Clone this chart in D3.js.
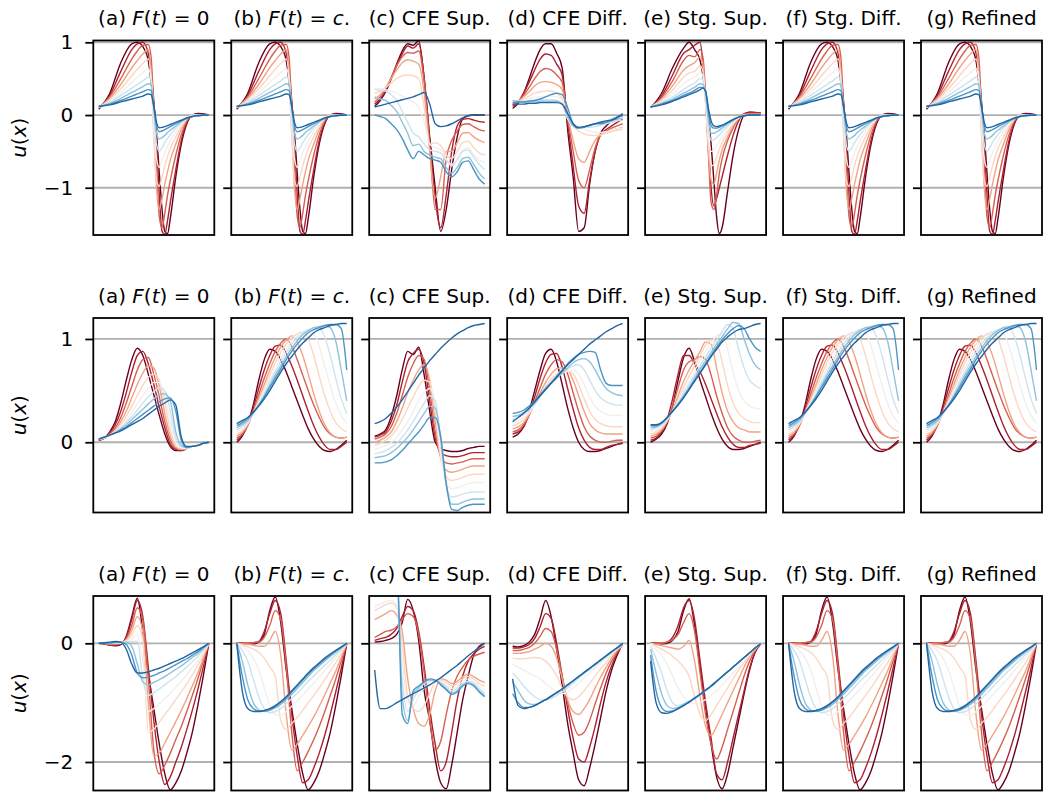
<!DOCTYPE html>
<html>
<head>
<meta charset="utf-8">
<script src="https://cdn.jsdelivr.net/npm/d3@7"></script>
<style>
  body { margin: 0; background: #fff; }
  text { font-family: "DejaVu Sans", sans-serif; }
</style>
</head>
<body>
<div id="chart"></div>
<script>
// sample positions along x (normalised domain)
const XU = [0, .05, .1, .15, .2, .25, .3, .35, .4, .45, .5, .55, .6, .65, .7, .75, .8, .85, .9, .95, 1];
const X1 = [0, .1, .2, .3, .35, .4, .45, .475, .5, .525, .55, .575, .6, .625, .65, .7, .75, .8, .85, .9, 1];

// ---- row 1 ----
const r1a = [
  [.08, .3, .72, .98, 1.0, .94, .75, .45, .15, -.25, -.8, -1.3, -1.6, -1.63, -1.42, -.85, -.4, -.12, 0, .02, 0],
  [.09, .27, .6, .9, .98, 1.0, .85, .6, .2, -.4, -1.1, -1.6, -1.64, -1.45, -1.2, -.75, -.35, -.1, 0, .01, 0],
  [.1, .25, .5, .77, .88, .96, .97, .8, .1, -.7, -1.4, -1.55, -1.35, -1.1, -.9, -.55, -.27, -.08, 0, 0, 0],
  [.1, .23, .42, .65, .75, .84, .9, .6, -.2, -1.0, -1.3, -1.15, -.95, -.78, -.62, -.4, -.2, -.06, 0, 0, 0],
  [.1, .21, .36, .54, .63, .71, .77, .5, -.3, -.9, -.98, -.85, -.7, -.57, -.46, -.3, -.16, -.05, 0, 0, 0],
  [.11, .19, .31, .45, .52, .58, .64, .5, -.1, -.6, -.72, -.62, -.52, -.43, -.35, -.23, -.12, -.04, -.01, 0, 0],
  [.11, .18, .27, .37, .42, .47, .52, .5, .0, -.4, -.5, -.45, -.38, -.32, -.27, -.18, -.1, -.04, -.01, 0, 0],
  [.11, .16, .23, .31, .35, .39, .43, .42, .1, -.25, -.33, -.31, -.28, -.24, -.21, -.15, -.09, -.04, -.02, 0, 0],
  [.12, .15, .2, .26, .29, .32, .35, .34, .12, -.15, -.23, -.22, -.2, -.18, -.16, -.12, -.08, -.05, -.02, -.01, 0],
  [.12, .14, .18, .22, .24, .26, .29, .28, .12, -.1, -.175, -.17, -.16, -.145, -.13, -.1, -.07, -.04, -.02, -.01, 0]
];
const r1c = [
  [.12, .2, .32, .5, .7, .88, .98, .96, 1.02, .5, -.3, -1.0, -1.6, -1.3, -.75, -.3, -.05, -.01, 0, 0, 0],
  [.15, .22, .34, .5, .68, .84, .95, .92, .98, .5, -.35, -1.15, -1.55, -1.1, -.5, -.15, -.06, -.05, -.07, -.09, -.1],
  [.18, .25, .36, .52, .68, .8, .86, .85, .88, .45, -.4, -1.3, -1.3, -.6, -.35, -.22, -.13, -.12, -.16, -.2, -.22],
  [.22, .28, .38, .5, .62, .72, .76, .74, .7, .3, -.5, -1.15, -.85, -.5, -.5, -.38, -.25, -.24, -.3, -.35, -.38],
  [.3, .33, .38, .44, .5, .54, .55, .54, .5, .1, -.4, -.38, -.42, -.55, -.6, -.5, -.38, -.36, -.45, -.52, -.55],
  [.37, .36, .35, .33, .3, .26, .22, .18, .1, -.1, -.4, -.45, -.48, -.6, -.68, -.6, -.48, -.45, -.55, -.62, -.65],
  [.35, .34, .33, .28, .2, .05, -.1, -.25, -.3, -.4, -.48, -.5, -.52, -.62, -.7, -.62, -.5, -.48, -.58, -.68, -.75],
  [.25, .22, .2, .13, .05, -.1, -.25, -.42, -.4, -.5, -.55, -.58, -.6, -.72, -.8, -.72, -.6, -.58, -.68, -.8, -.88],
  [.0, -.02, -.05, -.12, -.2, -.32, -.48, -.6, -.5, -.55, -.6, -.62, -.65, -.78, -.85, -.78, -.65, -.63, -.75, -.88, -.95],
  [.11, .13, .15, .17, .19, .21, .23, .25, .28, .31, .15, -.12, -.16, -.15, -.12, -.08, -.04, -.01, 0, 0, 0]
];
const r1d = [
  [.09, .16, .3, .5, .72, .9, .98, .98, .85, .65, -.2, -.85, -1.6, -1.55, -.95, -.5, -.25, -.15, -.08, -.03, 0],
  [.12, .18, .3, .45, .62, .77, .84, .82, .7, .55, -.1, -.7, -1.25, -1.35, -.9, -.5, -.27, -.2, -.15, -.1, -.06],
  [.14, .18, .27, .38, .5, .6, .64, .62, .55, .45, -.05, -.5, -.9, -1.0, -.75, -.45, -.27, -.22, -.18, -.15, -.12],
  [.16, .19, .25, .32, .4, .45, .46, .45, .42, .35, .0, -.35, -.6, -.65, -.5, -.35, -.27, -.24, -.21, -.19, -.17],
  [.17, .19, .22, .26, .3, .32, .33, .33, .3, .22, -.05, -.15, -.22, -.26, -.28, -.28, -.27, -.25, -.23, -.21, -.2],
  [.18, .19, .2, .22, .24, .25, .26, .26, .25, .2, -.05, -.12, -.16, -.19, -.22, -.24, -.24, -.23, -.21, -.19, -.18],
  [.19, .19, .19, .2, .2, .21, .21, .21, .2, .16, -.05, -.15, -.17, -.16, -.17, -.16, -.14, -.12, -.1, -.08, -.07],
  [.2, .19, .18, .18, .18, .19, .19, .19, .19, .15, -.02, -.15, -.18, -.16, -.15, -.12, -.1, -.1, -.08, -.06, -.04],
  [.17, .18, .18, .19, .2, .22, .25, .28, .3, .28, .1, -.12, -.18, -.17, -.14, -.12, -.12, -.1, -.06, -.03, -.01],
  [.15, .15, .15, .16, .16, .17, .17, .17, .17, .15, .02, -.12, -.17, -.16, -.14, -.12, -.1, -.08, -.07, -.04, .02]
];
const r1e = [
  [.1, .3, .65, .92, 1.0, .9, .75, .55, .3, 0, -.4, -.9, -1.4, -1.63, -1.55, -1.05, -.55, -.2, 0, .04, .03],
  [.11, .26, .55, .85, .9, .96, 1.0, .7, .2, -.4, -1.0, -1.25, -1.15, -1.0, -.85, -.55, -.28, -.08, .02, .04, .03],
  [.11, .24, .47, .75, .82, .8, .9, .8, .3, -.5, -1.2, -1.3, -1.1, -.8, -.6, -.35, -.18, -.05, .01, .02, .02],
  [.11, .22, .4, .62, .68, .72, .8, .7, .2, -.5, -.9, -.95, -.8, -.62, -.48, -.3, -.15, -.05, 0, .01, .01],
  [.11, .2, .34, .52, .58, .6, .68, .6, .15, -.4, -.7, -.68, -.58, -.47, -.38, -.24, -.12, -.04, 0, 0, 0],
  [.11, .18, .29, .43, .48, .52, .58, .55, .2, -.3, -.5, -.48, -.42, -.36, -.3, -.2, -.1, -.04, -.01, 0, 0],
  [.11, .17, .25, .35, .4, .44, .5, .48, .25, -.15, -.35, -.34, -.31, -.27, -.23, -.15, -.08, -.03, -.01, 0, 0],
  [.11, .16, .22, .3, .34, .38, .43, .42, .3, -.05, -.25, -.25, -.23, -.21, -.18, -.12, -.07, -.03, -.01, 0, 0],
  [.11, .15, .2, .27, .3, .34, .38, .38, .32, .05, -.15, -.18, -.18, -.17, -.15, -.11, -.07, -.03, -.01, 0, 0],
  [.11, .14, .19, .25, .28, .31, .35, .37, .33, .1, -.08, -.15, -.16, -.15, -.14, -.1, -.06, -.03, -.01, 0, 0]
];

// ---- row 2 ----
const r2a = [
  [.02, .04, .1, .2, .38, .6, .8, .91, .84, .66, .46, .26, .08, -.04, -.08, -.08, -.06, -.04, -.03, -.01, 0],
  [.02, .04, .09, .17, .3, .48, .68, .84, .88, .76, .56, .34, .14, -.02, -.07, -.08, -.06, -.04, -.03, -.01, 0],
  [.02, .04, .08, .14, .24, .38, .54, .7, .8, .82, .66, .44, .2, .02, -.06, -.07, -.06, -.04, -.03, -.01, 0],
  [.03, .04, .07, .12, .2, .3, .43, .56, .67, .74, .72, .54, .28, .06, -.05, -.07, -.06, -.04, -.03, -.01, 0],
  [.03, .04, .07, .11, .17, .25, .35, .45, .55, .63, .66, .6, .38, .12, -.03, -.06, -.06, -.04, -.03, -.01, 0],
  [.03, .05, .07, .1, .15, .21, .29, .37, .45, .52, .58, .58, .45, .2, 0, -.05, -.06, -.04, -.03, -.01, 0],
  [.03, .05, .07, .1, .14, .19, .25, .31, .38, .44, .49, .53, .5, .3, .04, -.04, -.05, -.04, -.03, -.01, 0],
  [.03, .05, .07, .09, .13, .17, .22, .27, .32, .37, .42, .46, .47, .4, .1, -.03, -.05, -.04, -.03, -.01, 0],
  [.03, .05, .07, .09, .12, .15, .19, .23, .27, .31, .35, .39, .42, .43, .3, .02, -.05, -.04, -.03, -.01, 0],
  [.03, .05, .07, .09, .11, .14, .17, .2, .23, .27, .31, .35, .38, .41, .36, .05, -.04, -.04, -.03, -.01, 0]
];
const r2b = [
  [0, .06, .18, .36, .6, .8, .9, .88, .8, .68, .54, .4, .26, .13, .03, -.04, -.08, -.09, -.07, -.03, .02],
  [.02, .07, .17, .33, .52, .7, .84, .93, .94, .86, .74, .6, .45, .3, .16, .05, -.03, -.07, -.07, -.04, 0],
  [.04, .08, .16, .3, .46, .62, .76, .88, .96, 1.0, .93, .8, .65, .5, .36, .24, .14, .08, .05, .04, .05],
  [.06, .1, .17, .29, .42, .56, .7, .82, .92, .99, 1.03, .97, .84, .66, .47, .3, .17, .09, .05, .04, .05],
  [.08, .11, .18, .28, .4, .52, .65, .77, .87, .95, 1.01, 1.05, 1.07, 1.0, .84, .64, .45, .3, .19, .13, .1],
  [.1, .13, .19, .28, .38, .5, .61, .72, .82, .91, .98, 1.03, 1.07, 1.09, 1.06, .93, .74, .55, .38, .26, .18],
  [.12, .15, .2, .28, .37, .47, .58, .68, .78, .87, .95, 1.01, 1.06, 1.09, 1.11, 1.11, 1.02, .84, .62, .42, .28],
  [.14, .17, .21, .28, .36, .45, .55, .65, .74, .83, .91, .98, 1.04, 1.08, 1.11, 1.12, 1.13, 1.11, .98, .7, .4],
  [.16, .19, .23, .29, .36, .44, .53, .62, .71, .8, .88, .95, 1.01, 1.06, 1.09, 1.11, 1.13, 1.14, 1.14, 1.1, .7],
  [.18, .21, .24, .29, .35, .42, .5, .59, .68, .76, .83, .9, .96, 1.01, 1.06, 1.09, 1.11, 1.13, 1.14, 1.15, 1.15]
];
const r2c = [
  [.06, .08, .12, .25, .45, .7, .88, .85, .92, .65, .3, 0, -.06, -.08, -.09, -.09, -.08, -.06, -.05, -.04, -.04],
  [.05, .07, .1, .2, .36, .58, .78, .86, .9, .76, .4, .05, -.1, -.13, -.14, -.14, -.13, -.11, -.1, -.1, -.1],
  [.03, .05, .08, .15, .28, .45, .63, .76, .84, .8, .5, .1, -.14, -.2, -.21, -.2, -.19, -.17, -.16, -.16, -.16],
  [0, .02, .05, .1, .2, .33, .48, .6, .7, .75, .6, .2, -.15, -.27, -.29, -.28, -.26, -.24, -.23, -.23, -.23],
  [-.03, -.01, .02, .06, .13, .22, .33, .44, .54, .6, .58, .3, -.15, -.33, -.37, -.36, -.34, -.32, -.31, -.31, -.31],
  [-.07, -.05, -.03, 0, .05, .12, .2, .3, .4, .48, .52, .38, -.1, -.38, -.45, -.44, -.42, -.4, -.39, -.39, -.39],
  [-.11, -.1, -.08, -.05, -.01, .05, .12, .2, .29, .38, .45, .4, 0, -.42, -.53, -.52, -.5, -.49, -.48, -.48, -.48],
  [-.15, -.14, -.13, -.1, -.06, -.01, .05, .12, .2, .28, .35, .33, .05, -.4, -.6, -.6, -.58, -.56, -.55, -.55, -.55],
  [-.2, -.2, -.19, -.17, -.13, -.08, -.02, .04, .1, .17, .24, .24, .05, -.4, -.65, -.66, -.63, -.61, -.6, -.6, -.6],
  [.18, .2, .23, .28, .34, .41, .49, .57, .65, .72, .79, .85, .91, .96, 1.01, 1.05, 1.08, 1.11, 1.13, 1.14, 1.15]
];
const r2d = [
  [.05, .08, .15, .3, .5, .7, .86, .9, .78, .56, .33, .14, .0, -.07, -.09, -.09, -.08, -.06, -.04, -.02, -.01],
  [.08, .1, .15, .27, .44, .62, .77, .85, .86, .73, .52, .32, .14, .02, -.05, -.07, -.07, -.05, -.03, -.02, -.01],
  [.1, .12, .17, .26, .39, .53, .66, .75, .8, .78, .66, .48, .3, .15, .06, .02, .0, 0, .01, .02, .02],
  [.13, .15, .19, .27, .37, .48, .58, .66, .71, .72, .7, .6, .45, .3, .18, .12, .09, .08, .08, .08, .08],
  [.16, .18, .22, .28, .36, .45, .54, .61, .66, .69, .69, .66, .56, .42, .3, .22, .18, .16, .15, .15, .15],
  [.19, .21, .24, .29, .36, .44, .52, .58, .63, .67, .69, .7, .66, .56, .44, .35, .3, .27, .26, .26, .26],
  [.22, .24, .27, .31, .37, .44, .51, .57, .62, .67, .71, .74, .75, .7, .6, .5, .43, .39, .37, .36, .36],
  [.25, .26, .29, .33, .38, .45, .51, .57, .62, .67, .72, .77, .8, .81, .78, .7, .6, .52, .48, .46, .45],
  [.28, .29, .31, .35, .4, .46, .52, .58, .64, .7, .76, .81, .85, .87, .88, .87, .7, .57, .55, .55, .55],
  [.2, .24, .28, .33, .39, .45, .51, .57, .63, .69, .75, .8, .85, .9, .95, .99, 1.03, 1.07, 1.1, 1.13, 1.15]
];
const r2e = [
  [0, .03, .08, .18, .35, .6, .82, .91, .78, .6, .44, .28, .14, .03, -.04, -.07, -.07, -.06, -.04, -.02, 0],
  [.02, .04, .1, .22, .42, .66, .84, .84, .76, .68, .56, .42, .28, .15, .05, -.02, -.05, -.05, -.03, -.02, -.01],
  [.04, .06, .11, .2, .35, .53, .7, .78, .8, .83, .8, .65, .45, .28, .14, .06, .02, .0, 0, .01, .02],
  [.06, .08, .12, .2, .31, .45, .59, .7, .79, .88, .97, .95, .72, .48, .3, .2, .14, .12, .1, .1, .1],
  [.08, .1, .14, .21, .3, .41, .53, .64, .74, .84, .94, .99, .97, .78, .55, .38, .28, .23, .2, .19, .19],
  [.1, .12, .16, .22, .3, .39, .49, .59, .69, .79, .88, .96, 1.03, 1.05, .9, .68, .5, .4, .35, .33, .32],
  [.12, .14, .17, .23, .3, .38, .47, .56, .65, .74, .83, .91, .99, 1.07, 1.14, 1.1, .9, .72, .6, .55, .52],
  [.14, .15, .18, .23, .3, .37, .45, .53, .62, .71, .79, .87, .95, 1.02, 1.1, 1.16, 1.15, 1.0, .85, .75, .7],
  [.16, .16, .19, .24, .3, .37, .44, .52, .6, .68, .76, .84, .92, .99, 1.05, 1.1, 1.13, 1.1, 1.0, .92, .88],
  [.17, .17, .19, .24, .3, .36, .43, .51, .59, .67, .75, .83, .9, .97, 1.02, 1.06, 1.09, 1.1, 1.12, 1.14, 1.15]
];

// ---- row 3 ----
const r3a = [
  [0, -.01, -.03, -.04, -.02, .12, .45, .76, .2, -.5, -1.1, -1.7, -2.2, -2.47, -2.35, -2.15, -1.85, -1.5, -1.05, -.55, 0],
  [0, -.01, -.02, -.03, -.01, .1, .4, .72, .45, -.4, -1.3, -2.0, -2.38, -2.25, -2.0, -1.75, -1.45, -1.13, -.78, -.4, 0],
  [0, -.01, -.02, -.02, 0, .08, .3, .6, .4, -.6, -1.8, -2.2, -2.05, -1.85, -1.62, -1.4, -1.15, -.88, -.6, -.3, 0],
  [0, 0, -.01, -.01, .01, .06, .22, .45, .2, -1.0, -1.9, -1.85, -1.68, -1.5, -1.32, -1.13, -.93, -.72, -.5, -.25, 0],
  [0, 0, 0, 0, .01, .04, .14, .3, .05, -1.5, -1.45, -1.33, -1.2, -1.08, -.95, -.82, -.68, -.53, -.37, -.19, 0],
  [0, 0, 0, 0, .01, .03, .07, .15, -.3, -1.15, -1.1, -1.02, -.93, -.84, -.74, -.64, -.53, -.41, -.29, -.15, 0],
  [0, 0, 0, .01, .01, .02, .03, .03, -.6, -.88, -.83, -.77, -.7, -.63, -.56, -.48, -.4, -.31, -.22, -.11, 0],
  [0, 0, 0, .01, .02, .02, -.05, -.35, -.65, -.7, -.66, -.61, -.56, -.5, -.44, -.38, -.31, -.24, -.17, -.09, 0],
  [0, 0, .01, .02, .02, -.02, -.2, -.5, -.58, -.57, -.54, -.5, -.46, -.41, -.36, -.31, -.26, -.2, -.14, -.07, 0],
  [0, .01, .02, .03, .02, -.1, -.35, -.5, -.5, -.48, -.45, -.42, -.38, -.34, -.3, -.26, -.21, -.16, -.11, -.06, 0]
];
const r3b = [
  [0, 0, -.01, -.01, .02, .15, .55, .78, .35, -.45, -1.1, -1.7, -2.2, -2.47, -2.35, -2.15, -1.85, -1.5, -1.05, -.55, 0],
  [0, 0, 0, .01, .03, .2, .5, .72, .5, -.3, -1.2, -1.9, -2.35, -2.3, -2.1, -1.85, -1.55, -1.2, -.82, -.42, 0],
  [0, 0, 0, .01, .02, .1, .3, .55, .4, -.4, -1.5, -2.15, -2.0, -1.82, -1.62, -1.4, -1.15, -.88, -.6, -.3, 0],
  [0, -.01, -.02, -.03, -.05, -.05, .05, .2, -.2, -1.2, -1.8, -1.7, -1.55, -1.4, -1.24, -1.06, -.87, -.67, -.47, -.24, 0],
  [0, -.03, -.06, -.1, -.15, -.25, -.4, -.55, -1.3, -1.45, -1.35, -1.25, -1.13, -1.0, -.88, -.75, -.61, -.47, -.33, -.17, 0],
  [0, -.05, -.12, -.25, -.45, -.75, -1.05, -1.2, -1.22, -1.15, -1.06, -.97, -.87, -.77, -.67, -.57, -.46, -.35, -.24, -.12, 0],
  [0, -.12, -.3, -.6, -.9, -1.1, -1.17, -1.15, -1.1, -1.02, -.93, -.84, -.74, -.64, -.55, -.46, -.37, -.28, -.19, -.1, 0],
  [0, -.3, -.7, -1.0, -1.12, -1.15, -1.13, -1.09, -1.03, -.95, -.86, -.76, -.66, -.56, -.46, -.38, -.3, -.22, -.15, -.08, 0],
  [0, -.55, -.95, -1.1, -1.14, -1.14, -1.12, -1.07, -1.0, -.92, -.82, -.72, -.62, -.52, -.43, -.35, -.27, -.2, -.13, -.07, 0],
  [0, -.8, -1.1, -1.15, -1.15, -1.13, -1.1, -1.05, -.98, -.9, -.8, -.7, -.6, -.5, -.41, -.33, -.25, -.18, -.12, -.06, 0]
];
const r3c = [
  [.02, .03, .05, .08, .15, .35, .74, .55, .05, -.8, -1.3, -1.95, -2.35, -2.45, -2.05, -1.5, -.95, -.55, -.2, -.05, 0],
  [.05, .08, .1, .15, .25, .45, .62, .55, .2, -.4, -1.1, -1.7, -2.15, -2.0, -1.5, -.95, -.55, -.3, -.18, -.1, -.05],
  [.1, .15, .2, .22, .28, .4, .5, .45, .15, -.5, -1.3, -1.8, -1.65, -1.2, -.8, -.55, -.4, -.28, -.22, -.18, -.15],
  [.4, .45, .5, .55, .48, .2, -.6, -1.1, -1.35, -1.4, -1.2, -.8, -.6, -.62, -.68, -.64, -.56, -.52, -.56, -.62, -.66],
  [.55, .6, .65, .68, .6, .0, -.9, -1.1, -1.15, -1.05, -.85, -.65, -.62, -.66, -.72, -.68, -.6, -.56, -.6, -.68, -.72],
  [.62, .66, .7, .72, .65, -.3, -1.0, -1.05, -.9, -.75, -.66, -.63, -.65, -.7, -.76, -.72, -.64, -.6, -.64, -.72, -.78],
  [.9, .9, .9, .9, .9, -.6, -1.15, -.95, -.78, -.68, -.63, -.62, -.66, -.72, -.8, -.76, -.68, -.64, -.68, -.76, -.84],
  [1.2, 1.2, 1.2, 1.2, 1.2, -.9, -1.3, -.85, -.75, -.66, -.62, -.62, -.68, -.76, -.84, -.8, -.7, -.66, -.7, -.8, -.88],
  [1.5, 1.5, 1.5, 1.5, 1.5, -1.2, -1.35, -.8, -.72, -.65, -.6, -.62, -.7, -.78, -.86, -.82, -.72, -.68, -.72, -.82, -.9],
  [-.45, -1.1, -1.1, -1.06, -1.0, -.95, -.9, -.85, -.8, -.75, -.7, -.64, -.58, -.51, -.44, -.37, -.29, -.21, -.14, -.07, 0]
];
const r3d = [
  [-.05, -.06, -.04, .02, .15, .42, .72, .45, -.1, -.7, -1.35, -1.85, -2.3, -2.4, -2.1, -1.7, -1.25, -.8, -.45, -.2, 0],
  [-.08, -.08, -.06, -.02, .08, .28, .5, .42, .0, -.55, -1.1, -1.6, -1.95, -2.0, -1.75, -1.4, -1.0, -.65, -.38, -.17, -.02],
  [-.12, -.12, -.1, -.07, .0, .12, .25, .2, -.1, -.55, -1.0, -1.35, -1.55, -1.5, -1.3, -1.02, -.75, -.5, -.3, -.14, -.03],
  [-.17, -.17, -.16, -.14, -.1, -.05, .0, -.05, -.25, -.6, -.95, -1.15, -1.2, -1.1, -.95, -.75, -.57, -.4, -.25, -.12, -.04],
  [-.25, -.26, -.26, -.25, -.24, -.25, -.3, -.4, -.55, -.75, -.9, -.95, -.9, -.8, -.68, -.55, -.43, -.32, -.2, -.1, -.04],
  [-.35, -.4, -.45, -.5, -.55, -.6, -.68, -.75, -.82, -.85, -.82, -.75, -.67, -.58, -.5, -.41, -.33, -.25, -.17, -.09, -.04],
  [-.5, -.6, -.72, -.82, -.9, -.95, -.96, -.93, -.88, -.82, -.75, -.67, -.59, -.51, -.44, -.37, -.3, -.22, -.15, -.08, -.03],
  [-.65, -.8, -.95, -1.02, -1.03, -1.0, -.95, -.9, -.84, -.78, -.71, -.64, -.57, -.5, -.43, -.36, -.29, -.22, -.15, -.08, -.03],
  [-.85, -1.0, -1.08, -1.08, -1.05, -1.0, -.95, -.89, -.83, -.77, -.7, -.63, -.56, -.49, -.42, -.35, -.28, -.21, -.14, -.08, -.02],
  [-.6, -1.05, -1.1, -1.08, -1.05, -1.0, -.95, -.89, -.83, -.77, -.7, -.63, -.56, -.49, -.42, -.35, -.28, -.21, -.14, -.07, 0]
];
const r3e = [
  [0, 0, -.01, .0, .05, .2, .55, .75, .3, -.4, -1.1, -1.7, -2.25, -2.45, -2.2, -1.75, -1.3, -.85, -.45, -.15, -.02],
  [0, 0, 0, .02, .1, .3, .6, .72, .4, -.3, -1.0, -1.6, -2.2, -2.3, -2.0, -1.6, -1.2, -.8, -.42, -.15, -.02],
  [0, 0, 0, .02, .06, .15, .35, .5, .2, -.5, -1.2, -1.7, -1.95, -1.75, -1.45, -1.15, -.85, -.55, -.3, -.12, -.02],
  [0, -.02, -.04, -.06, -.08, -.1, -.05, .05, -.3, -.9, -1.4, -1.55, -1.4, -1.2, -1.0, -.8, -.6, -.4, -.22, -.1, -.02],
  [0, -.05, -.1, -.15, -.22, -.3, -.4, -.55, -.9, -1.2, -1.3, -1.2, -1.05, -.9, -.75, -.6, -.45, -.32, -.2, -.09, -.02],
  [0, -.1, -.2, -.35, -.55, -.75, -.9, -1.0, -1.02, -1.0, -.95, -.88, -.8, -.7, -.6, -.5, -.4, -.29, -.18, -.08, -.02],
  [-.05, -.25, -.5, -.8, -1.0, -1.05, -1.02, -.98, -.93, -.87, -.8, -.73, -.65, -.57, -.49, -.41, -.33, -.24, -.16, -.08, -.02],
  [-.1, -.5, -.85, -1.05, -1.1, -1.08, -1.03, -.98, -.92, -.86, -.79, -.72, -.64, -.56, -.48, -.4, -.32, -.24, -.16, -.08, -.02],
  [-.2, -.8, -1.08, -1.15, -1.14, -1.1, -1.05, -.99, -.92, -.86, -.79, -.72, -.64, -.56, -.48, -.4, -.32, -.24, -.16, -.08, -.01],
  [-.3, -1.0, -1.17, -1.18, -1.15, -1.1, -1.05, -.99, -.93, -.86, -.79, -.72, -.64, -.56, -.48, -.4, -.32, -.24, -.16, -.08, -.01]
];

// panel titles: [text, italic?]
const titles = [
  [["(a) ", 0], ["F", 1], ["(", 0], ["t", 1], [") = 0", 0]],
  [["(b) ", 0], ["F", 1], ["(", 0], ["t", 1], [") = ", 0], ["c", 1], [".", 0]],
  [["(c) CFE Sup.", 0]],
  [["(d) CFE Diff.", 0]],
  [["(e) Stg. Sup.", 0]],
  [["(f) Stg. Diff.", 0]],
  [["(g) Refined", 0]]
];

const rows = [
  { yDomain: [-1.65, 1.025], ticks: [-1, 0, 1], top: 40.5,
    panels: [[X1, r1a], [X1, r1a], [XU, r1c], [XU, r1d], [X1, r1e], [X1, r1a], [X1, r1a]] },
  { yDomain: [-0.68, 1.203], ticks: [0, 1], top: 318,
    panels: [[XU, r2a], [XU, r2b], [XU, r2c], [XU, r2d], [XU, r2e], [XU, r2b], [XU, r2b]] },
  { yDomain: [-2.48, 0.797], ticks: [-2, 0], top: 596,
    panels: [[XU, r3a], [XU, r3b], [XU, r3c], [XU, r3d], [XU, r3e], [XU, r3b], [XU, r3b]] }
];

const W = 1043, H = 795;
const pw = 121, ph = 194.5;
const left0 = 93.3, pitch = 137.95;
const fs = 20;
const color = k => d3.interpolateRdBu(k * 0.1);

const svg = d3.select('#chart').append('svg')
  .attr('width', W).attr('height', H)
  .style('background', '#fff');

rows.forEach((row, r) => {
  row.panels.forEach(([xs, curves], c) => {
    const L = left0 + c * pitch;
    const T = row.top;
    const x = d3.scaleLinear().domain([-0.05, 1.05]).range([L, L + pw]);
    const y = d3.scaleLinear().domain(row.yDomain).range([T + ph, T]);
    const g = svg.append('g');

    const clipId = `clip-${r}-${c}`;
    g.append('clipPath').attr('id', clipId)
      .append('rect').attr('x', L).attr('y', T).attr('width', pw).attr('height', ph);

    // horizontal grid at tick values
    g.selectAll('.grid').data(row.ticks).join('line')
      .attr('x1', L).attr('x2', L + pw)
      .attr('y1', d => y(d)).attr('y2', d => y(d))
      .attr('stroke', '#b0b0b0').attr('stroke-width', 1.8);

    const line = d3.line()
      .x((v, i) => x(xs[i]))
      .y(v => y(v))
      .curve(d3.curveMonotoneX);

    g.append('g').attr('clip-path', `url(#${clipId})`)
      .selectAll('path').data(curves).join('path')
      .attr('d', line)
      .attr('fill', 'none')
      .attr('stroke', (d, k) => color(k))
      .attr('stroke-width', 1.4);

    // y axis ticks (labels only on first column)
    const axis = d3.axisLeft(y).tickValues(row.ticks).tickSize(8).tickPadding(12)
      .tickFormat(c > 0 ? '' : d3.format('d'));
    const ax = g.append('g').attr('transform', `translate(${L},0)`).call(axis);
    ax.select('.domain').remove();
    ax.selectAll('.tick line').attr('stroke', '#000').attr('stroke-width', 1.8);
    ax.selectAll('.tick text')
      .attr('font-size', fs).attr('fill', '#000')
      .attr('font-family', '"DejaVu Sans", sans-serif');

    g.append('rect')
      .attr('x', L).attr('y', T).attr('width', pw).attr('height', ph)
      .attr('fill', 'none').attr('stroke', '#000').attr('stroke-width', 1.8);

    const t = g.append('text')
      .attr('x', L + pw / 2).attr('y', T - 15.5)
      .attr('text-anchor', 'middle').attr('font-size', fs).attr('fill', '#000');
    titles[c].forEach(([s, it]) => {
      t.append('tspan').text(s).attr('font-style', it ? 'italic' : 'normal');
    });
  });

  const yl = svg.append('text')
    .attr('transform', `translate(19,${row.top + ph / 2}) rotate(-90)`)
    .attr('text-anchor', 'middle').attr('dominant-baseline', 'central')
    .attr('font-size', fs).attr('fill', '#000');
  yl.append('tspan').text('u').attr('font-style', 'italic');
  yl.append('tspan').text('(');
  yl.append('tspan').text('x').attr('font-style', 'italic');
  yl.append('tspan').text(')');
});
</script>
</body>
</html>
